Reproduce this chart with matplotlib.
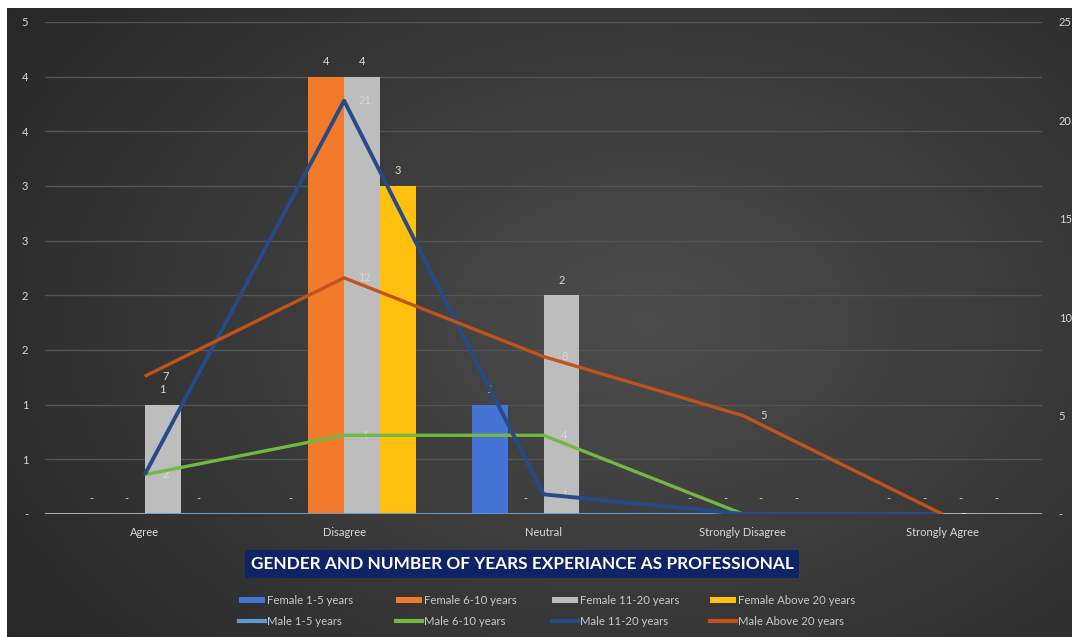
import matplotlib.pyplot as plt
import numpy as np
from matplotlib.ticker import FuncFormatter, MultipleLocator
from matplotlib.patches import Patch
from matplotlib.lines import Line2D

plt.rcParams['font.family'] = ['Lato', 'DejaVu Sans']

# Categories and series
categorias = ['Agree', 'Disagree', 'Neutral', 'Strongly Disagree', 'Strongly Agree']

# Female (bars, left axis)
female_1_5 = [0, 0, 1, 0, 0]
female_6_10 = [0, 4, 0, 0, 0]
female_11_20 = [1, 4, 2, 0, 0]
female_20 = [0, 3, 0, 0, 0]

# Male (lines, right axis)
male_1_5 = [0, 0, 0, 0, 0]
male_6_10 = [2, 4, 4, 0, 0]
male_11_20 = [2, 21, 1, 0, 0]
male_20 = [7, 12, 8, 5, 0]

bar_series = [
    ('Female 1-5 years', female_1_5, '#4374d6'),
    ('Female 6-10 years', female_6_10, '#f37a2a'),
    ('Female 11-20 years', female_11_20, '#bdbdbd'),
    ('Female Above 20 years', female_20, '#ffc10e'),
]
line_series = [
    ('Male 1-5 years', male_1_5, '#5b9bd5', 2.0),
    ('Male 6-10 years', male_6_10, '#72b843', 2.4),
    ('Male 11-20 years', male_11_20, '#264b87', 2.8),
    ('Male Above 20 years', male_20, '#c0531a', 2.4),
]

txt = '#d9d9d9'
W, H = 1072, 637
fig = plt.figure(figsize=(W / 100, H / 100), dpi=100)

# radial dark background
bg = fig.add_axes([7 / W, 0, 1 - 7 / W, 1 - 8 / H], zorder=-10)
yy, xx = np.mgrid[0:300, 0:500]
d = np.sqrt(((xx - 300) / 330.0) ** 2 + ((yy - 150) / 230.0) ** 2)
shade = np.clip(0.30 - 0.13 * d, 0.15, 0.30)
bg.imshow(np.dstack([shade] * 3), aspect='auto', extent=[0, 1, 0, 1])
bg.axis('off')

ax = fig.add_axes([45 / W, 1 - 514 / H, 997 / W, 492 / H])
ax.set_facecolor('none')
ax2 = ax.twinx()

x = np.arange(len(categorias))
bw = 0.18
for i, (nombre, vals, col) in enumerate(bar_series):
    pos = x + (i - 1.5) * bw
    ax.bar(pos, vals, width=bw, color=col, zorder=3)
    for xp, v in zip(pos, vals):
        ax.annotate(str(v) if v else '-', (xp, v), xytext=(0, 11), textcoords='offset points',
                    ha='center', va='center', color=txt, fontsize=8)

for nombre, vals, col, lw in line_series:
    ax2.plot(x, vals, color=col, lw=lw, solid_capstyle='butt', zorder=4)
    for xp, v in zip(x, vals):
        ax2.annotate(str(v) if v else '-', (xp, v), xytext=(15, 0), textcoords='offset points',
                     ha='center', va='center', color=txt, fontsize=8)

ax.set_xlim(-0.5, 4.5)
ax.set_ylim(0, 4.5)
ax2.set_ylim(0, 25)
ax.yaxis.set_major_locator(MultipleLocator(0.5))
ax2.yaxis.set_major_locator(MultipleLocator(5))


def excel_int(v, p):
    if abs(v) < 1e-9:
        return '-'
    return str(int(np.floor(v + 0.5)))


ax.yaxis.set_major_formatter(FuncFormatter(excel_int))
ax2.yaxis.set_major_formatter(FuncFormatter(excel_int))
ax.grid(axis='y', color='#555555', lw=1, zorder=0)
ax.set_xticks(x)
ax.set_xticklabels(categorias)

for a in (ax, ax2):
    for s in a.spines.values():
        s.set_visible(False)
    a.tick_params(length=0, colors=txt, labelsize=8)
ax.tick_params(axis='y', pad=12)
ax2.tick_params(axis='y', pad=12)
ax.tick_params(axis='x', pad=9)
ax.axhline(0, color='#a6a6a6', lw=1.5, zorder=2)

fig.text(522 / W, 1 - 564 / H, 'GENDER AND NUMBER OF YEARS EXPERIANCE AS PROFESSIONAL',
         ha='center', va='center', color='white', fontsize=12.4, fontweight='bold',
         bbox=dict(boxstyle='square,pad=0.35', fc='#0e2466', ec='none'))

# legend: one small legend per column, Excel-style fixed column widths
col_x = [233, 390, 546, 704]
for cx, (bn, bv, bc), (ln, lv, lc, lw) in zip(col_x, bar_series, line_series):
    h = [Patch(facecolor=bc, label=bn), Line2D([], [], color=lc, lw=3, label=ln)]
    fig.legend(handles=h, loc='center left', bbox_to_anchor=(cx / W, 1 - 611 / H),
               frameon=False, fontsize=8.2, labelcolor='#c8c8c8', handlelength=2.3,
               handleheight=0.5, handletextpad=0.2, labelspacing=0.85, borderpad=0)

fig.savefig('out.png', dpi=100)
